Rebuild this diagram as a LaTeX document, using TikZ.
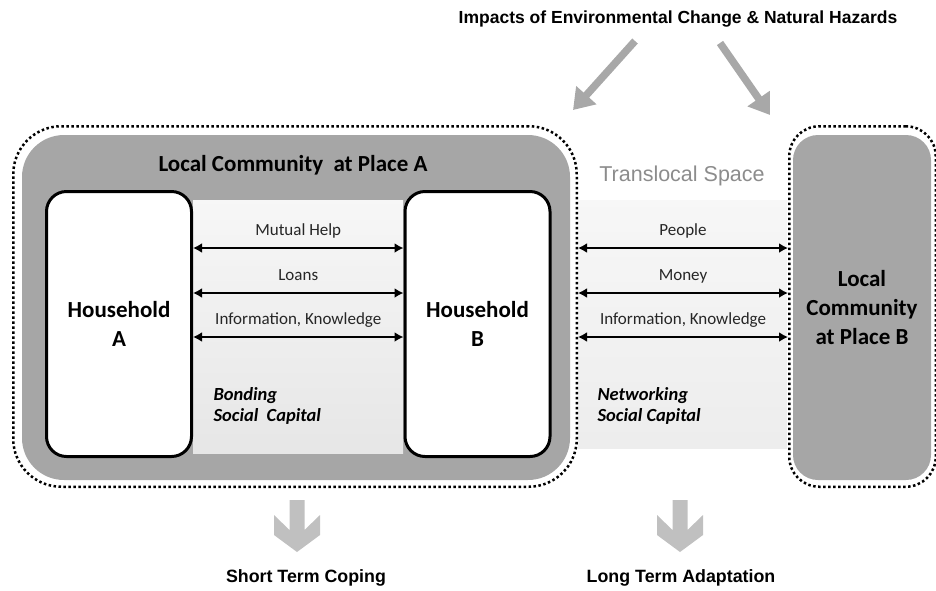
\documentclass[tikz,border=0pt]{standalone}
\usepackage{fontspec}
\setmainfont{Carlito}
\newfontfamily\arialfont{Liberation Sans}
\usetikzlibrary{arrows.meta}
\usetikzlibrary{calc}
\definecolor{commgray}{RGB}{166,166,166}
\definecolor{arrowgray}{RGB}{168,168,168}
\definecolor{downgray}{RGB}{192,192,192}
\definecolor{transgray}{RGB}{140,140,140}
\definecolor{bandgray}{RGB}{222,222,222}
\tikzset{
	household/.style={draw, line width=3pt, fill=white, rounded corners=20pt, minimum width=145pt, minimum height=265pt, align=center, font=\fontsize{23}{29}\selectfont\bfseries},
	community/.style={fill=commgray, inner sep=0pt},
	dottedline/.style={draw, line width=2.5pt, dash pattern=on 2.5pt off 2.5pt, inner sep=0pt},
	flow/.style={line width=2.6pt, {Latex[length=9pt,width=10pt]}-{Latex[length=9pt,width=10pt]}},
	flowlabel/.style={font=\fontsize{17}{20}\selectfont, text=black!85, text height=12pt, text depth=4pt},
	capital/.style={anchor=west, align=left, font=\fontsize{18.5}{21}\selectfont\bfseries\itshape},
	hazard/.style={arrowgray, line width=7.5pt, -{Triangle[length=20pt,width=26pt]}},
	outcome/.style={font=\arialfont\bfseries\fontsize{17.8}{20}\selectfont}
}
\begin{document}
\begin{tikzpicture}[x=1pt, y=-1pt]
		\useasboundingbox (0,0) rectangle (936,590);
		\node[community, rounded corners=42pt, minimum width=548pt, minimum height=345pt] (commA) at (296,307.5) {};
		\shade[top color=bandgray!25, middle color=bandgray, bottom color=bandgray!75] (193,200) rectangle (403,453);
		\shade[top color=bandgray!25, middle color=bandgray, bottom color=bandgray!55] (578,200) rectangle (787,448);
		\node[dottedline, rounded corners=48pt, minimum width=563.5pt, minimum height=360.5pt] (outerA) at (295,306.5) {};
		\node[dottedline, rounded corners=30pt, minimum width=146.5pt, minimum height=360.5pt] (outerB) at (862.5,306.5) {};
		\node[community, rounded corners=25pt, minimum width=138pt, minimum height=345pt, align=center, font=\fontsize{23}{29}\selectfont\bfseries] (commB) at (862,307.5) {Local\\Community\\at Place B};
		\node[household] (hhA) at (119,324) {Household\\A};
		\node[household] (hhB) at (477.5,324) {Household\\B};
		\node[font=\fontsize{23}{28}\selectfont\bfseries] (titleA) at (293,165) {Local Community~ at Place A};
		\node[font=\arialfont\fontsize{21.5}{24}\selectfont, text=transgray] (transloc) at (682,176) {Translocal Space};
		\coordinate (r1) at (0,248);
		\coordinate (r2) at (0,293);
		\coordinate (r3) at (0,337);
		\draw[flow] (hhA.east |- r1) -- (hhB.west |- r1) node[midway, above=4pt, flowlabel] {Mutual Help};
		\draw[flow] (hhA.east |- r2) -- (hhB.west |- r2) node[midway, above=4pt, flowlabel] {Loans};
		\draw[flow] (hhA.east |- r3) -- (hhB.west |- r3) node[midway, above=4pt, flowlabel] {Information, Knowledge};
		\draw[flow] (outerA.east |- r1) -- (outerB.west |- r1) node[midway, above=4pt, flowlabel] {People};
		\draw[flow] (outerA.east |- r2) -- (outerB.west |- r2) node[midway, above=4pt, flowlabel] {Money};
		\draw[flow] (outerA.east |- r3) -- (outerB.west |- r3) node[midway, above=4pt, flowlabel] {Information, Knowledge};
		\node[capital] (bondA) at (210,405.5) {Bonding\\Social~ Capital};
		\node[capital] (networkT) at (594,405.5) {Networking\\Social Capital};
		\node[font=\arialfont\bfseries\fontsize{17.5}{20}\selectfont] (impacts) at (678,19) {Impacts of Environmental Change \& Natural Hazards};
		\coordinate (tailA) at (635,41);
		\coordinate (tipA) at (573,110);
		\coordinate (tailB) at (720,43);
		\coordinate (tipB) at (770,115);
		\draw[hazard] (tailA) -- (tipA);
		\draw[hazard] (tailB) -- (tipB);
		\foreach \cx in {297,680}
			\fill[downgray] (\cx-7.5,500) -- (\cx+7.5,500) -- (\cx+7.5,530) -- (\cx+23,515) -- (\cx+23,535) -- (\cx,552) -- (\cx-23,535) -- (\cx-23,515) -- (\cx-7.5,530) -- cycle;
		\node[outcome] (coping) at (306,578) {Short Term Coping};
		\node[outcome] (adaptation) at (681,578) {Long Term Adaptation};
	\end{tikzpicture}
\end{document}
